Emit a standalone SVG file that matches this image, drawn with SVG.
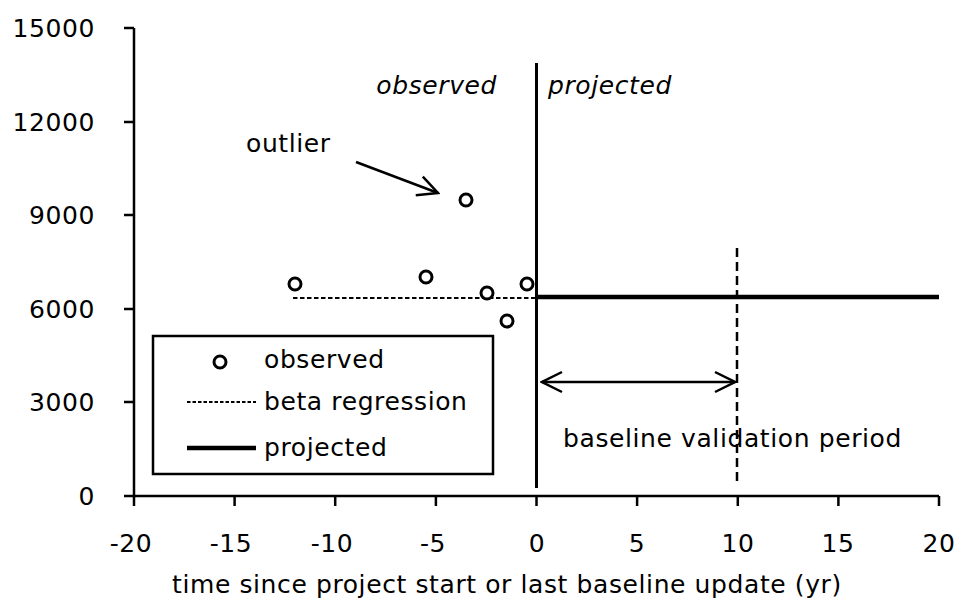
<svg xmlns="http://www.w3.org/2000/svg" width="958" height="603" viewBox="0 0 958 603">
<style>
text{font-family:"DejaVu Sans","Verdana",sans-serif;font-size:25px;fill:#000;letter-spacing:0.6px}
.ax{stroke:#000;stroke-width:2.5;fill:none}
.pt{stroke:#000;stroke-width:3;fill:#fff}
.it{font-style:italic}
</style>
<defs>
<marker id="open" viewBox="0 0 24 24" refX="22" refY="12" markerWidth="24" markerHeight="24" markerUnits="userSpaceOnUse" orient="auto-start-reverse">
<path d="M2,2 L22,12 L2,22" fill="none" stroke="#000" stroke-width="2.5"/>
</marker>
</defs>
<rect width="958" height="603" fill="#fff"/>
<g id="axes">
<path class="ax" d="M134,28 V496 H939"/>
<path class="ax" d="M124,28 H134 M124,122 H134 M124,215 H134 M124,309 H134 M124,402 H134 M124,496 H134"/>
<path class="ax" d="M134,496 V506 M234.6,496 V506 M335.2,496 V506 M435.9,496 V506 M536.5,496 V506 M637.1,496 V506 M737.8,496 V506 M838.4,496 V506 M939,496 V506"/>
<g text-anchor="end">
<text x="95" y="37">15000</text>
<text x="95" y="131">12000</text>
<text x="95" y="224">9000</text>
<text x="95" y="318">6000</text>
<text x="95" y="411">3000</text>
<text x="95" y="505">0</text>
</g>
<g text-anchor="middle">
<text x="131" y="552">-20</text>
<text x="231" y="552">-15</text>
<text x="332" y="552">-10</text>
<text x="433" y="552">-5</text>
<text x="537" y="552">0</text>
<text x="637" y="552">5</text>
<text x="738" y="552">10</text>
<text x="838" y="552">15</text>
<text x="939" y="552">20</text>
</g>
<text x="172" y="593">time since project start or last baseline update (yr)</text>
</g>
<g id="connectors">
<line x1="536.5" y1="63" x2="536.5" y2="488" stroke="#000" stroke-width="3"/>
<line x1="293" y1="298" x2="536" y2="298" stroke="#000" stroke-width="2" stroke-dasharray="4.5,2.5"/>
<line x1="536" y1="297" x2="939" y2="297" stroke="#000" stroke-width="4.5"/>
<line x1="737" y1="248" x2="737" y2="482" stroke="#000" stroke-width="2.5" stroke-dasharray="9,5"/>
<line x1="542" y1="382" x2="735" y2="382" stroke="#000" stroke-width="2.5" marker-start="url(#open)" marker-end="url(#open)"/>
<line x1="356" y1="162" x2="438" y2="193" stroke="#000" stroke-width="2.5" marker-end="url(#open)"/>
</g>
<g id="points">
<circle class="pt" cx="295" cy="284" r="6"/>
<circle class="pt" cx="426" cy="277" r="6"/>
<circle class="pt" cx="466" cy="200" r="6"/>
<circle class="pt" cx="487" cy="293" r="6"/>
<circle class="pt" cx="507" cy="321" r="6"/>
<circle class="pt" cx="527" cy="284" r="6"/>
</g>
<g id="labels">
<text class="it" x="497" y="94" text-anchor="end">observed</text>
<text class="it" x="548" y="94">projected</text>
<text x="246" y="152">outlier</text>
<text x="563" y="447">baseline validation period</text>
</g>
<g id="legend">
<rect x="153" y="336" width="340" height="138" fill="#fff" stroke="#000" stroke-width="2.5"/>
<circle class="pt" cx="220" cy="362" r="6"/>
<text x="264" y="368">observed</text>
<line x1="187" y1="402" x2="256" y2="402" stroke="#000" stroke-width="2" stroke-dasharray="3.5,2"/>
<text x="264" y="410">beta regression</text>
<line x1="187" y1="448" x2="256" y2="448" stroke="#000" stroke-width="4.5"/>
<text x="264" y="456">projected</text>
</g>
</svg>
